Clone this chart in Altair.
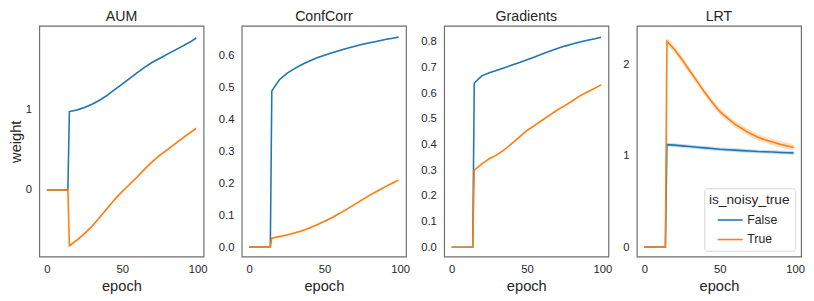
import altair as alt
import pandas as pd

EPOCHS = [0, 14, 15, 20, 25, 30, 35, 40, 45, 50, 55, 60, 65, 70, 75, 80, 85, 90, 95, 99]

AUM_FALSE = [0, 0, 0.97, 0.99, 1.02, 1.06, 1.11, 1.17, 1.24, 1.31, 1.38, 1.45, 1.52, 1.58, 1.63, 1.68, 1.73, 1.78, 1.83, 1.88]
AUM_TRUE = [0, 0, -0.69, -0.62, -0.54, -0.45, -0.34, -0.23, -0.12, -0.02, 0.07, 0.16, 0.26, 0.35, 0.43, 0.50, 0.57, 0.64, 0.71, 0.76]

CC_FALSE = [0, 0, 0.49, 0.525, 0.545, 0.56, 0.573, 0.584, 0.594, 0.602, 0.61, 0.617, 0.624, 0.63, 0.636, 0.641, 0.646, 0.651, 0.655, 0.659]
CC_TRUE = [0, 0, 0.028, 0.033, 0.038, 0.044, 0.051, 0.06, 0.07, 0.081, 0.093, 0.106, 0.12, 0.134, 0.149, 0.163, 0.176, 0.189, 0.201, 0.21]

GR_FALSE = [0, 0, 0.64, 0.668, 0.68, 0.69, 0.70, 0.71, 0.72, 0.731, 0.742, 0.753, 0.764, 0.775, 0.784, 0.792, 0.80, 0.807, 0.813, 0.819]
GR_TRUE = [0, 0, 0.30, 0.325, 0.345, 0.36, 0.38, 0.405, 0.43, 0.455, 0.475, 0.495, 0.515, 0.535, 0.552, 0.57, 0.59, 0.605, 0.62, 0.633]

LRT_FALSE = [0, 0, 1.125, 1.12, 1.112, 1.105, 1.097, 1.09, 1.082, 1.075, 1.07, 1.065, 1.06, 1.055, 1.05, 1.047, 1.044, 1.04, 1.037, 1.035]
LRT_TRUE = [0, 0, 2.26, 2.17, 2.06, 1.94, 1.82, 1.70, 1.59, 1.49, 1.42, 1.35, 1.30, 1.25, 1.21, 1.18, 1.155, 1.13, 1.11, 1.095]

METRICS = ["AUM", "ConfCorr", "Gradients", "LRT"]
SERIES = {
    "AUM": (AUM_FALSE, AUM_TRUE),
    "ConfCorr": (CC_FALSE, CC_TRUE),
    "Gradients": (GR_FALSE, GR_TRUE),
    "LRT": (LRT_FALSE, LRT_TRUE),
}
# confidence band half-widths (False, True)
BAND = {
    "AUM": (0.01, 0.015),
    "ConfCorr": (0.002, 0.003),
    "Gradients": (0.002, 0.003),
    "LRT": (0.02, 0.035),
}
Y_DOMAIN = {
    "AUM": [-0.826, 2.03],
    "ConfCorr": [-0.030, 0.694],
    "Gradients": [-0.037, 0.863],
    "LRT": [-0.105, 2.43],
}
Y_TICKS = {
    "AUM": [0, 1],
    "ConfCorr": [0, 0.1, 0.2, 0.3, 0.4, 0.5, 0.6],
    "Gradients": [0, 0.1, 0.2, 0.3, 0.4, 0.5, 0.6, 0.7, 0.8],
    "LRT": [0, 1, 2],
}
Y_FORMAT = {"AUM": "d", "ConfCorr": ".1f", "Gradients": ".1f", "LRT": "d"}
Y_EXTENT = {"AUM": 14, "ConfCorr": 25, "Gradients": 25, "LRT": 15}

GROUPS = ["False", "True"]
COLORS = ["#1f77b4", "#ff7f0e"]
FONT = "Liberation Sans"
TEXT = "#262626"

panels = []
for m in METRICS:
    rows = []
    for g, vals, hw in zip(GROUPS, SERIES[m], BAND[m]):
        for e, v in zip(EPOCHS, vals):
            w = hw if e >= 15 else 0
            rows.append({"epoch": e, "weight": v, "lo": v - w, "hi": v + w, "is_noisy_true": g})
    df = pd.DataFrame(rows)

    x = alt.X("epoch:Q", title="epoch",
              scale=alt.Scale(domain=[-4.95, 103.95], nice=False, zero=False),
              axis=alt.Axis(values=[0, 50, 100], labelPadding=7, titlePadding=4))
    yaxis = alt.Axis(values=Y_TICKS[m], format=Y_FORMAT[m], labelPadding=8,
                     minExtent=Y_EXTENT[m], maxExtent=Y_EXTENT[m],
                     titlePadding=2,
                     title="weight" if m == "AUM" else None)
    yscale = alt.Scale(domain=Y_DOMAIN[m], nice=False, zero=False)
    if m == "LRT":
        legend = alt.Legend(title="is_noisy_true", orient="bottom-right", offset=6,
                            symbolType="M-1.5,0H1.5", symbolSize=290, symbolStrokeWidth=1.6,
                            symbolOpacity=1,
                            labelFontSize=12.5, titleFontSize=14, titleFontWeight="normal",
                            titleColor=TEXT, labelColor=TEXT, titleAnchor="middle",
                            padding=5, rowPadding=4, titlePadding=4, labelOffset=8,
                            strokeColor="#d5d5d5", fillColor="white", cornerRadius=3,
                            labelFont=FONT, titleFont=FONT)
        color = alt.Color("is_noisy_true:N",
                          scale=alt.Scale(domain=GROUPS, range=COLORS), legend=legend)
    else:
        color = alt.Color("is_noisy_true:N",
                          scale=alt.Scale(domain=GROUPS, range=COLORS), legend=None)
    band = alt.Chart(df).mark_area(opacity=0.25).encode(
        x=x,
        y=alt.Y("lo:Q", scale=yscale, axis=yaxis),
        y2="hi:Q",
        color=color,
    )
    line = alt.Chart(df).mark_line(strokeWidth=1.6).encode(
        x=x,
        y=alt.Y("weight:Q", scale=yscale, axis=yaxis),
        color=color,
    )
    panel = alt.layer(band, line).properties(
        width=168, height=236,
        title=alt.TitleParams(m, fontSize=14.5, font=FONT, color=TEXT, fontWeight="normal", offset=1),
    )
    panels.append(panel)

chart = alt.hconcat(*panels, spacing=8).resolve_scale(
    y="independent", color="independent"
).resolve_legend(color="independent").configure(
    padding={"left": 0, "top": -3, "right": 0, "bottom": 0},
    font=FONT,
).configure_view(
    stroke="#6e6e6e", strokeWidth=1.2
).configure_axis(
    domain=False, ticks=False, grid=False,
    labelFont=FONT, labelFontSize=11.5, labelColor=TEXT,
    titleFont=FONT, titleFontSize=15, titleColor=TEXT, titleFontWeight="normal",
)

chart.save("out.html", embed_options={"renderer": "svg", "actions": False})
